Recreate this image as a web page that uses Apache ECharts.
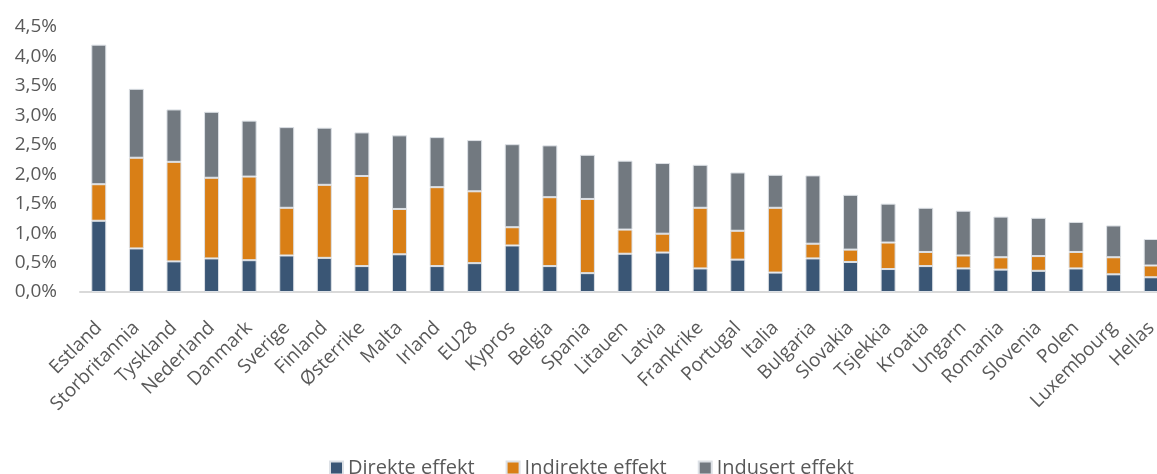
<!DOCTYPE html>
<html>
<head>
<meta charset="utf-8">
<script src="https://cdn.jsdelivr.net/npm/echarts@6/dist/echarts.min.js"></script>
<style>
  html, body { margin: 0; padding: 0; background: #fff; }
  #chart { width: 1157px; height: 474px; }
</style>
</head>
<body>
<div id="chart"></div>
<script>
const countries = ['Estland', 'Storbritannia', 'Tyskland', 'Nederland', 'Danmark', 'Sverige', 'Finland', 'Østerrike', 'Malta', 'Irland', 'EU28', 'Kypros', 'Belgia', 'Spania', 'Litauen', 'Latvia', 'Frankrike', 'Portugal', 'Italia', 'Bulgaria', 'Slovakia', 'Tsjekkia', 'Kroatia', 'Ungarn', 'Romania', 'Slovenia', 'Polen', 'Luxembourg', 'Hellas']

// values in percent
const direkte = [1.21, 0.74, 0.52, 0.57, 0.54, 0.62, 0.58, 0.44, 0.64, 0.44, 0.49, 0.79, 0.44, 0.32, 0.65, 0.67, 0.40, 0.55, 0.33, 0.57, 0.51, 0.39, 0.44, 0.40, 0.38, 0.36, 0.40, 0.30, 0.25]
const indirekte = [0.62, 1.54, 1.69, 1.37, 1.42, 0.81, 1.24, 1.53, 0.77, 1.34, 1.22, 0.31, 1.17, 1.26, 0.41, 0.32, 1.03, 0.49, 1.10, 0.25, 0.21, 0.45, 0.24, 0.22, 0.21, 0.25, 0.28, 0.29, 0.20]
const indusert = [2.37, 1.17, 0.89, 1.12, 0.95, 1.37, 0.97, 0.74, 1.25, 0.85, 0.87, 1.41, 0.88, 0.75, 1.17, 1.20, 0.73, 0.99, 0.56, 1.16, 0.93, 0.66, 0.75, 0.76, 0.69, 0.65, 0.51, 0.54, 0.45]

const seriesNames = ['Direkte effekt', 'Indirekte effekt', 'Indusert effekt']
const colors = ['#3a5675', '#d97f16', '#727980']

const chart = echarts.init(document.getElementById('chart'))

function makeSeries(name, data) {
  return {
    name: name,
    type: 'bar',
    stack: 'total',
    data: data,
    barWidth: 15,
    itemStyle: {
      borderColor: '#dde1e6',
      borderWidth: 1
    }
  }
}

chart.setOption({
  color: colors,
  textStyle: { fontFamily: '"Open Sans", sans-serif' },
  grid: {
    left: 80,
    top: 27,
    width: 1090,
    height: 265,
    outerBoundsMode: 'none'
  },
  legend: {
    left: 324,
    top: 453,
    itemWidth: 13,
    itemHeight: 13,
    itemGap: 31,
    icon: 'rect',
    textStyle: { color: '#595959', fontSize: 20 },
    data: seriesNames
  },
  xAxis: {
    type: 'category',
    data: countries,
    axisTick: { show: false },
    axisLine: { lineStyle: { color: '#d9d9d9', width: 2 } },
    axisLabel: {
      interval: 0,
      rotate: 45,
      margin: 33,
      color: '#595959',
      fontSize: 19
    }
  },
  yAxis: {
    type: 'value',
    min: 0,
    max: 4.5,
    interval: 0.5,
    splitLine: { show: false },
    axisLine: { show: false },
    axisTick: { show: false },
    axisLabel: {
      margin: 23,
      color: '#595959',
      fontSize: 19,
      formatter: function (v) {
        return v.toFixed(1).replace('.', ',') + '%'
      }
    }
  },
  series: [
    makeSeries(seriesNames[0], direkte),
    makeSeries(seriesNames[1], indirekte),
    makeSeries(seriesNames[2], indusert)
  ]
})
</script>
</body>
</html>
